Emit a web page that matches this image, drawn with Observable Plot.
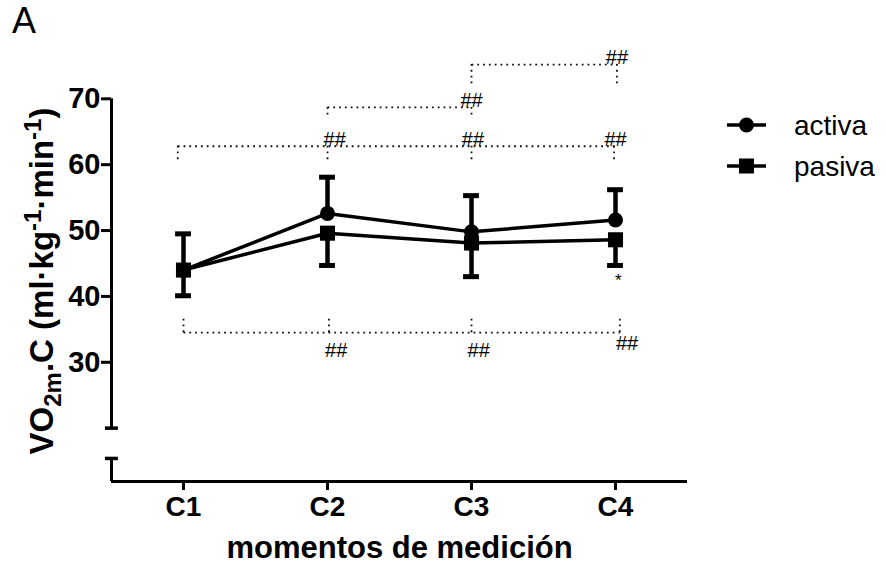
<!DOCTYPE html>
<html><head><meta charset="utf-8">
<script src="https://cdn.jsdelivr.net/npm/d3@7"></script>
<script src="https://cdn.jsdelivr.net/npm/@observablehq/plot@0.6"></script>
<style>
body{margin:0;background:#fff;}
#wrap{position:relative;width:886px;height:572px;font-family:"Liberation Sans",Arial,sans-serif;color:#000;}
#panel{position:absolute;left:12px;top:3px;font-size:36px;line-height:36px;}
#legend{position:absolute;left:0;top:0;}
</style></head><body><div id="wrap"><div id="panel">A</div></div>
<script>
// ---- data ----
const categories = ["C1", "C2", "C3", "C4"];
const seriesNames = ["activa", "pasiva"];
const activaMean  = [44.0, 52.6, 49.8, 51.6];
const activaUpper = [49.5, 58.1, 55.3, 56.2];
const pasivaMean  = [44.0, 49.6, 48.1, 48.6];
const pasivaLower = [40.1, 44.7, 43.0, 44.7];
const yTicks = [30, 40, 50, 60, 70];
const yAxisUpper = [20, 70];      // upper segment of the broken axis
const yAxisLower = [11.9, 15.4];  // lower segment of the broken axis
// significance brackets (x in category index units, y in data units)
const bracketLines = [
  {x1: 3.0, x2: 4.01, y: 75.2},
  {x1: 2.0, x2: 3.0, y: 68.7},
  {x1: 0.96, x2: 4.0, y: 62.8},
  {x1: 1.0, x2: 4.03, y: 34.5}
];
const bracketTicks = [
  {x: 3.0, y1: 75.2, y2: 72.2}, {x: 4.01, y1: 75.2, y2: 72.2},
  {x: 2.0, y1: 68.7, y2: 67.0}, {x: 3.0, y1: 68.7, y2: 67.0},
  {x: 0.96, y1: 62.8, y2: 60.4}, {x: 2.0, y1: 62.8, y2: 60.4},
  {x: 3.0, y1: 62.8, y2: 60.4}, {x: 3.99, y1: 62.8, y2: 60.4},
  {x: 1.0, y1: 34.5, y2: 36.9}, {x: 2.01, y1: 34.5, y2: 36.9},
  {x: 3.0, y1: 34.5, y2: 36.9}, {x: 4.03, y1: 34.5, y2: 36.9}
];
const hashAbove = [
  {x: 4.01, y: 75.3}, {x: 3.0, y: 68.75},
  {x: 2.05, y: 62.85}, {x: 3.01, y: 62.85}, {x: 4.0, y: 62.85}
];
const hashBelow = [{x: 2.06, y: 32.9}, {x: 3.05, y: 32.9}, {x: 4.08, y: 34.0}];
const starMarks = [{x: 4.02, y: 43.4}];

// ---- tables ----
const activa = categories.map((c, i) => ({i: i + 1, y: activaMean[i], e: activaUpper[i]}));
const pasiva = categories.map((c, i) => ({i: i + 1, y: pasivaMean[i], e: pasivaLower[i]}));
const capHalf = 0.055;
const font = "'Liberation Sans', Arial, sans-serif";
const dotted = {stroke: "#111", strokeWidth: 1.8, strokeDasharray: "1.8,4"};

const plot = Plot.plot({
  width: 886, height: 572,
  marginLeft: 111, marginRight: 199, marginTop: 32, marginBottom: 91,
  x: {domain: [0.5, 4.5], range: [111, 687]},
  y: {domain: [11.9, 80], range: [481, 32.45]},
  style: {fontFamily: font, background: "white", color: "black"},
  marks: [
    Plot.link(bracketLines, {x1: "x1", x2: "x2", y1: "y", y2: "y", ...dotted}),
    Plot.ruleX(bracketTicks, {x: "x", y1: "y1", y2: "y2", ...dotted}),
    Plot.text(hashAbove, {x: "x", y: "y", text: () => "##", lineAnchor: "bottom", fontSize: 20, fill: "#000"}),
    Plot.text(hashBelow, {x: "x", y: "y", text: () => "##", lineAnchor: "top", fontSize: 20, fill: "#000"}),
    Plot.text(starMarks, {x: "x", y: "y", text: () => "*", lineAnchor: "top", fontSize: 17, fill: "#000"}),
    // axes
    Plot.ruleY([yAxisLower[0]], {stroke: "black", strokeWidth: 3}),
    Plot.ruleX([0.5], {y1: yAxisUpper[0], y2: yAxisUpper[1], stroke: "black", strokeWidth: 3}),
    Plot.ruleX([0.5], {y1: yAxisLower[0], y2: yAxisLower[1], stroke: "black", strokeWidth: 3}),
    Plot.ruleY([yAxisUpper[0], yAxisLower[1]], {x1: 0.5 - 0.042, x2: 0.5 + 0.048, stroke: "black", strokeWidth: 3.5}),
    Plot.axisY({ticks: yTicks, tickSize: 10, tickPadding: 1, strokeWidth: 3, fontSize: 29, fontWeight: "bold", label: null}),
    Plot.axisX({ticks: [1, 2, 3, 4], tickFormat: d => categories[d - 1], tickSize: 9, tickPadding: 6, strokeWidth: 3, fontSize: 28, fontWeight: "bold", label: null}),
    Plot.text(["momentos de medición"], {frameAnchor: "bottom", dy: 76, fontSize: 31, fontWeight: "bold", lineAnchor: "bottom"}),
    // error bars
    Plot.ruleX(activa, {x: "i", y1: "y", y2: "e", stroke: "black", strokeWidth: 4.5}),
    Plot.ruleX(pasiva, {x: "i", y1: "y", y2: "e", stroke: "black", strokeWidth: 4.5}),
    Plot.ruleY(activa, {y: "e", x1: d => d.i - capHalf, x2: d => d.i + capHalf, stroke: "black", strokeWidth: 5}),
    Plot.ruleY(pasiva, {y: "e", x1: d => d.i - capHalf, x2: d => d.i + capHalf, stroke: "black", strokeWidth: 5}),
    // lines and markers
    Plot.line(activa, {x: "i", y: "y", stroke: "black", strokeWidth: 3.5}),
    Plot.line(pasiva, {x: "i", y: "y", stroke: "black", strokeWidth: 3.5}),
    Plot.dot(activa, {x: "i", y: "y", r: 7.5, fill: "black", stroke: "none"}),
    Plot.dot(pasiva, {x: "i", y: "y", r: 8.5, symbol: "square", fill: "black", stroke: "none"})
  ]
});
document.getElementById("wrap").appendChild(plot);

// y-axis title with subscript / superscripts
const svg = d3.select(plot);
const yl = svg.append("text")
  .attr("transform", "translate(53,281) rotate(-90)")
  .attr("text-anchor", "middle")
  .attr("font-family", font).attr("font-weight", "bold").attr("font-size", 33).attr("fill", "black");
const parts = [
  {t: "VO", s: 33, dy: 0},
  {t: "2m", s: 24, dy: 8},
  {t: ".C (ml·kg", s: 33, dy: -8},
  {t: "-1", s: 24, dy: -12},
  {t: "·min", s: 33, dy: 12},
  {t: "-1", s: 24, dy: -12},
  {t: ")", s: 33, dy: 12}
];
parts.forEach(p => yl.append("tspan").attr("font-size", p.s).attr("dy", p.dy).text(p.t));

// legend
const lg = d3.select("#wrap").append("svg").attr("id", "legend").attr("width", 886).attr("height", 572);
seriesNames.forEach((name, k) => {
  const cy = 125 + k * 41;
  const g = lg.append("g").attr("transform", `translate(0,${cy})`);
  g.append("line").attr("x1", 727).attr("x2", 766).attr("y1", 0).attr("y2", 0).attr("stroke", "black").attr("stroke-width", 3.5);
  if (k === 0) g.append("circle").attr("cx", 746.5).attr("cy", 0).attr("r", 7.5).attr("fill", "black");
  else g.append("rect").attr("x", 739).attr("y", -7.5).attr("width", 15).attr("height", 15).attr("fill", "black");
  g.append("text").attr("x", 794).attr("y", 10).attr("font-family", font).attr("font-size", 28).attr("fill", "black").text(name);
});
</script></body></html>
